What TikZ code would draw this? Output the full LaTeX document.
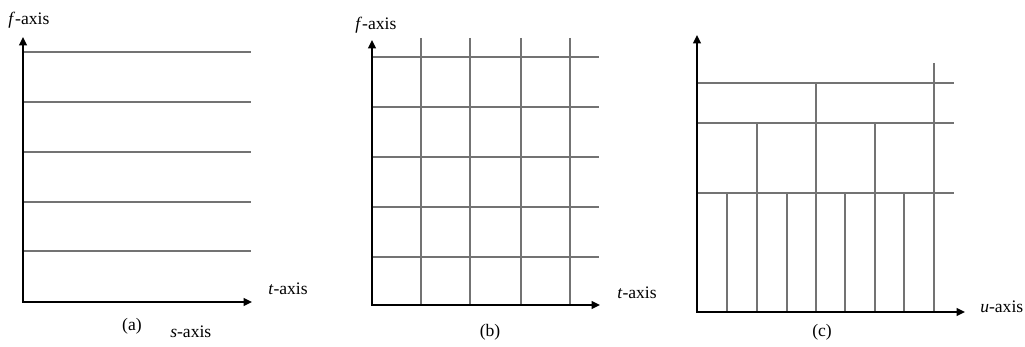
\documentclass[tikz,border=0pt]{standalone}
\usepackage{fontspec}
\setmainfont{Liberation Serif}
\usetikzlibrary{arrows.meta}

\begin{document}
\begin{tikzpicture}[x=0.025cm, y=-0.025cm, every node/.style={font=\fontsize{12.5}{14}\selectfont, inner sep=0pt}]
  \tikzstyle{axis} = [line width=1.6pt, {Triangle[length=6pt,width=5.5pt]}-{Triangle[length=6pt,width=5.5pt]}]
  \tikzstyle{gridline} = [line width=0.8pt, black!55]
  \useasboundingbox (0,0) rectangle (1025,347);

  % (a) horizontal lines only
  \coordinate (a0) at (23,302);
  \coordinate (atop) at (23,37);
  \coordinate (aright) at (252,302);
  \foreach \y in {52,102,152,202,251}
    \draw [gridline] (23,\y) -- (251,\y);
  \draw [axis] (atop) -- (a0) -- (aright);
  \node (af) [anchor=base west] at (8,25) {\textit{f}-axis};
  \node (at) [anchor=base west] at (268,294) {\textit{t}-axis};
  \node (alab) at (132,326) {(a)};
  \node (as) [anchor=base west] at (170,337) {\textit{s}-axis};

  % (b) full grid
  \coordinate (b0) at (372,305);
  \coordinate (btop) at (372,40);
  \coordinate (bright) at (600,305);
  \foreach \y in {57,107,157,207,257}
    \draw [gridline] (372,\y) -- (599,\y);
  \foreach \x in {421,470,521,570}
    \draw [gridline] (\x,38) -- (\x,305);
  \draw [axis] (btop) -- (b0) -- (bright);
  \node (bf) [anchor=base west] at (355,30) {\textit{f}-axis};
  \node (bt) [anchor=base west] at (617,298) {\textit{t}-axis};
  \node (blab) at (490,332) {(b)};

  % (c) tiling
  \coordinate (c0) at (697,312);
  \coordinate (ctop) at (697,35);
  \coordinate (cright) at (965,312);
  \foreach \y in {83,123,193}
    \draw [gridline] (697,\y) -- (954,\y);
  \draw [gridline] (816,83) -- (816,312);
  \draw [gridline] (934,63) -- (934,312);
  \foreach \x in {757,875}
    \draw [gridline] (\x,123) -- (\x,312);
  \foreach \x in {727,787,845,904}
    \draw [gridline] (\x,193) -- (\x,312);
  \draw [axis] (ctop) -- (c0) -- (cright);
  \node (cu) [anchor=base west] at (980,312) {\textit{u}-axis};
  \node (clab) at (822,332) {(c)};
\end{tikzpicture}
\end{document}
